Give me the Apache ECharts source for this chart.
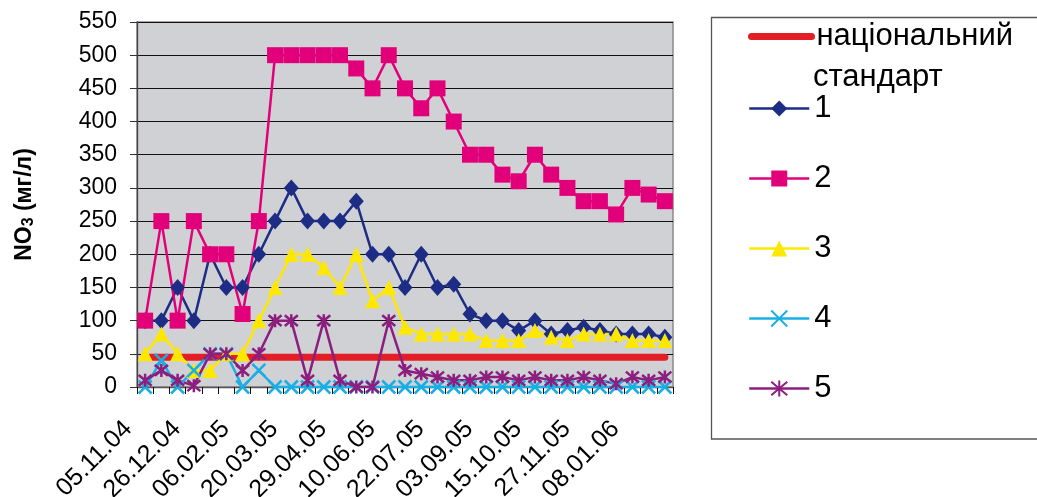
<!DOCTYPE html>
<html>
<head>
<meta charset="utf-8">
<script src="https://cdn.jsdelivr.net/npm/echarts@6/dist/echarts.min.js"></script>
<style>
  html, body { margin: 0; padding: 0; background: #fff; }
  #chart { width: 1037px; height: 497px; }
</style>
</head>
<body>
<div id="chart"></div>
<script>
// Sampling dates (fortnightly); every third one is labelled on the axis
const dates = [
  '05.11.04', '22.11.04', '09.12.04', '26.12.04', '09.01.05', '23.01.05',
  '06.02.05', '20.02.05', '06.03.05', '20.03.05', '03.04.05', '15.04.05',
  '29.04.05', '13.05.05', '27.05.05', '10.06.05', '24.06.05', '08.07.05',
  '22.07.05', '05.08.05', '19.08.05', '03.09.05', '17.09.05', '01.10.05',
  '15.10.05', '29.10.05', '12.11.05', '27.11.05', '11.12.05', '25.12.05',
  '08.01.06', '22.01.06', '05.02.06'
];

// National standard level
const standard = [45, 45, 45, 45, 45, 45, 45, 45, 45, 45, 45, 45, 45, 45, 45, 45, 45,
  45, 45, 45, 45, 45, 45, 45, 45, 45, 45, 45, 45, 45, 45, 45, 45];

// Sampling points 1..5
const site1 = [100, 100, 150, 100, 200, 150, 150, 200, 250, 300, 250, 250, 250, 280, 200, 200,
  150, 200, 150, 155, 110, 100, 100, 85, 100, 80, 85, 90, 85, 80, 80, 80, 75];
const site2 = [100, 250, 100, 250, 200, 200, 110, 250, 500, 500, 500, 500, 500, 480, 450, 500,
  450, 420, 450, 400, 350, 350, 320, 310, 350, 320, 300, 280, 280, 260, 300, 290, 280];
const site3 = [50, 80, 50, 25, 25, 50, 50, 100, 150, 200, 200, 180, 150, 200, 130, 150,
  90, 80, 80, 80, 80, 70, 70, 70, 85, 75, 70, 80, 80, 80, 70, 70, 70];
const site4 = [0, 40, 0, 25, 50, 50, 0, 25, 0, 0, 0, 0, 0, 0, 0, 0,
  0, 0, 0, 0, 0, 0, 0, 0, 0, 0, 0, 0, 0, 0, 0, 0, 0];
const site5 = [10, 25, 10, 2, 50, 50, 25, 50, 100, 100, 10, 100, 10, 0, 0, 100,
  25, 20, 15, 10, 10, 15, 15, 10, 15, 10, 10, 15, 10, 5, 15, 10, 15];

const yMin = 0, yMax = 550, yStep = 50;

const FONT = "'Liberation Sans', Arial, sans-serif";
const CROSS = 'path://M0 0L10 10M10 0L0 10';
const ASTERISK = 'path://M0 0L10 10M10 0L0 10M5 -1L5 11';

function markerSeries(name, data, color, symbol, size, stroked) {
  const s = {
    name: name,
    type: 'line',
    data: data,
    symbol: symbol,
    symbolSize: size,
    showAllSymbol: true,
    lineStyle: { color: color, width: 2.5 },
    itemStyle: { color: color },
    emphasis: { disabled: true }
  };
  if (stroked) {
    s.itemStyle = { color: color, borderColor: color, borderWidth: 2.5 };
  }
  return s;
}

const chart = echarts.init(document.getElementById('chart'), null, { renderer: 'canvas' });

chart.setOption({
  animation: false,
  backgroundColor: '#ffffff',
  textStyle: { fontFamily: FONT },
  grid: {
    left: 137, top: 22, width: 536, height: 365,
    containLabel: false,
    outerBoundsMode: 'none',
    show: true,
    backgroundColor: '#d0d1d5',
    borderColor: '#8a8a8a',
    borderWidth: 1.5
  },
  xAxis: {
    type: 'category',
    data: dates,
    boundaryGap: true,
    axisLine: { lineStyle: { color: '#555', width: 1.3 } },
    axisTick: { show: true, interval: 0, length: 7, lineStyle: { color: '#111' } },
    axisLabel: {
      interval: 2, rotate: 45, margin: 21, padding: [0, 24, 0, 0],
      fontSize: 25, color: '#000', fontFamily: FONT
    },
    splitLine: { show: false }
  },
  yAxis: {
    type: 'value',
    min: yMin, max: yMax, interval: yStep,
    axisLine: { show: true, lineStyle: { color: '#444', width: 1.3 } },
    axisTick: { show: true, length: 7, lineStyle: { color: '#333' } },
    axisLabel: { margin: 20, fontSize: 23, color: '#000', fontFamily: FONT },
    splitLine: { lineStyle: { color: '#111', width: 1 } },
    name: '{n|NO}{s|3}{n| (мг/л)}',
    nameLocation: 'middle',
    nameRotate: 90,
    nameGap: 100,
    nameTextStyle: {
      rich: {
        n: { fontSize: 23, fontWeight: 'bold', color: '#000', fontFamily: FONT, lineHeight: 25 },
        s: { fontSize: 16, fontWeight: 'bold', color: '#000', fontFamily: FONT, verticalAlign: 'bottom', lineHeight: 16 }
      }
    }
  },
  legend: [
    {
      data: ['національний стандарт'],
      left: 748, top: 21, padding: 0,
      itemWidth: 60, itemHeight: 20,
      selectedMode: false,
      formatter: function () { return 'національний'; },
      itemStyle: { opacity: 0 },
      lineStyle: { width: 7, cap: 'round' },
      textStyle: { fontSize: 31, lineHeight: 30, color: '#000', fontFamily: FONT }
    },
    {
      data: ['1', '2', '3', '4', '5'],
      orient: 'vertical',
      left: 748, top: 93, padding: 0,
      itemGap: 39, itemWidth: 60, itemHeight: 20,
      selectedMode: false,
      lineStyle: { width: 2.5 },
      textStyle: { fontSize: 31, lineHeight: 30, color: '#000', fontFamily: FONT }
    }
  ],
  graphic: [
    {
      type: 'rect',
      shape: { x: 711.5, y: 17.5, width: 340, height: 421.5 },
      style: { fill: 'none', stroke: '#555', lineWidth: 1.3 },
      silent: true
    },
    {
      type: 'text',
      x: 813, y: 77,
      style: {
        text: 'стандарт', fill: '#000',
        font: '31px ' + FONT,
        align: 'left', verticalAlign: 'middle'
      },
      silent: true
    }
  ],
  series: [
    {
      name: 'національний стандарт',
      type: 'line',
      data: standard,
      symbol: 'none',
      lineStyle: { color: '#e31e24', width: 7, cap: 'round' },
      itemStyle: { color: '#e31e24' },
      emphasis: { disabled: true }
    },
    markerSeries('1', site1, '#1d2c84', 'diamond', [15, 17], false),
    markerSeries('2', site2, '#e2007a', 'rect', 16, false),
    markerSeries('3', site3, '#ffe800', 'triangle', 15, false),
    markerSeries('4', site4, '#19afe5', CROSS, 13, true),
    markerSeries('5', site5, '#8b1e7e', ASTERISK, 13, true)
  ]
});
</script>
</body>
</html>
